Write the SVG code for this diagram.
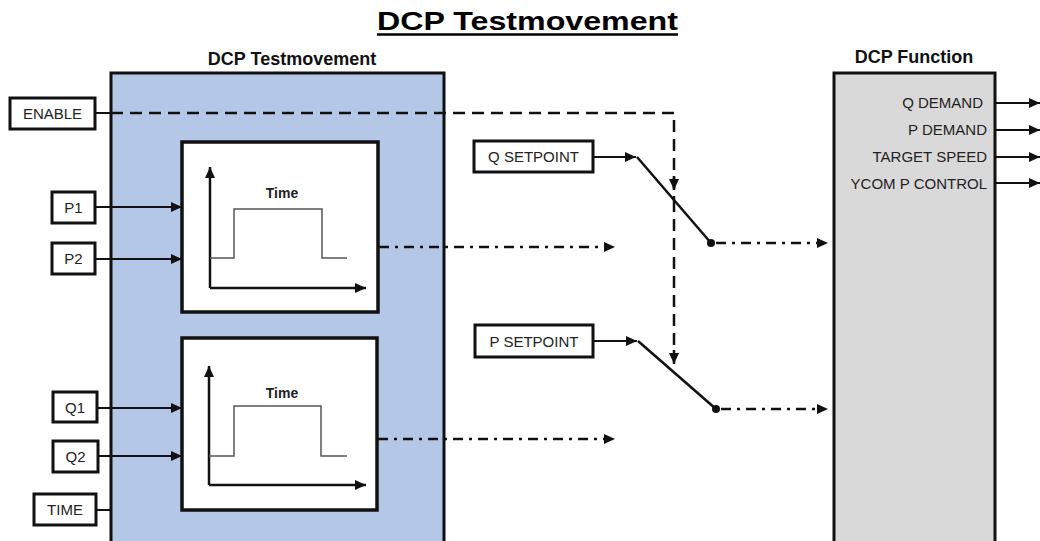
<svg xmlns="http://www.w3.org/2000/svg" width="1040" height="541" viewBox="0 0 1040 541">
<style>
  .lbl{font-family:"Liberation Sans",Arial,sans-serif;font-size:15px;fill:#222;}
  .hd{font-family:"Liberation Sans",Arial,sans-serif;font-size:18px;font-weight:bold;fill:#111;}
  .tm{font-family:"Liberation Sans",Arial,sans-serif;font-size:14px;font-weight:bold;fill:#222;}
  .box{fill:#fff;stroke:#111;stroke-width:3;}
  .inner{fill:#fff;stroke:#111;stroke-width:3.5;}
  .sol{fill:none;stroke:#111;stroke-width:2;}
  .dash{fill:none;stroke:#111;stroke-width:2.5;stroke-dasharray:12 7;}
  .dd{fill:none;stroke:#111;stroke-width:2.5;stroke-dasharray:10 6 3 6;}
  .pulse{fill:none;stroke:#555;stroke-width:1.5;}
  .axis{fill:none;stroke:#111;stroke-width:2.5;}
</style>
<defs>
  <marker id="ah" markerUnits="userSpaceOnUse" markerWidth="12" markerHeight="10" refX="11" refY="5" orient="auto">
    <path d="M0,0 L11,5 L0,10 Z" fill="#111"/>
  </marker>
</defs>
<rect width="1040" height="541" fill="#fff"/>

<!-- title -->
<g id="title">
  <text x="527.5" y="30" text-anchor="middle" font-family="Liberation Sans, Arial, sans-serif" font-size="25" font-weight="bold" fill="#000" textLength="301" lengthAdjust="spacingAndGlyphs">DCP Testmovement</text>
  <line x1="377" y1="34.5" x2="678" y2="34.5" stroke="#000" stroke-width="2.5"/>
</g>

<!-- DCP Testmovement block -->
<g id="dcp-testmovement">
  <text class="hd" x="292" y="65" text-anchor="middle">DCP Testmovement</text>
  <rect x="111" y="73" width="333" height="490" fill="#b4c7e7" stroke="#111" stroke-width="3"/>
</g>

<!-- DCP Function block -->
<g id="dcp-function">
  <text class="hd" x="914" y="63" text-anchor="middle">DCP Function</text>
  <rect x="834" y="73" width="161" height="490" fill="#d9d9d9" stroke="#111" stroke-width="3"/>
  <text class="lbl" x="983" y="108" text-anchor="end">Q DEMAND</text>
  <text class="lbl" x="987" y="135" text-anchor="end">P DEMAND</text>
  <text class="lbl" x="987" y="162" text-anchor="end">TARGET SPEED</text>
  <text class="lbl" x="987" y="189" text-anchor="end">YCOM P CONTROL</text>
</g>

<!-- input nodes -->
<g id="enable"><rect class="box" x="10" y="98" width="85" height="31"/><text class="lbl" x="52.5" y="119" text-anchor="middle">ENABLE</text></g>
<g id="p1"><rect class="box" x="52" y="192" width="43" height="31"/><text class="lbl" x="73.5" y="213" text-anchor="middle">P1</text></g>
<g id="p2"><rect class="box" x="52" y="243" width="43" height="31"/><text class="lbl" x="73.5" y="264" text-anchor="middle">P2</text></g>
<g id="q1"><rect class="box" x="53" y="392" width="44" height="30"/><text class="lbl" x="75" y="413" text-anchor="middle">Q1</text></g>
<g id="q2"><rect class="box" x="53" y="441" width="45" height="31"/><text class="lbl" x="75.5" y="462" text-anchor="middle">Q2</text></g>
<g id="time"><rect class="box" x="34" y="494" width="62" height="31"/><text class="lbl" x="65" y="515" text-anchor="middle">TIME</text></g>
<g id="q-setpoint"><rect class="box" x="474" y="141" width="119" height="31"/><text class="lbl" x="533.5" y="162" text-anchor="middle">Q SETPOINT</text></g>
<g id="p-setpoint"><rect class="box" x="475" y="325" width="118" height="32"/><text class="lbl" x="534" y="347" text-anchor="middle">P SETPOINT</text></g>

<!-- pulse generator 1 -->
<g id="pulse-gen-1">
  <rect class="inner" x="182" y="142" width="196" height="170"/>
  <line class="axis" x1="210" y1="288" x2="210" y2="167" marker-end="url(#ah)"/>
  <line class="axis" x1="210" y1="288" x2="366" y2="288" marker-end="url(#ah)"/>
  <polyline class="pulse" points="210,258 234,258 234,209 322,209 322,258 347,258"/>
  <text class="tm" x="282" y="198" text-anchor="middle">Time</text>
</g>

<!-- pulse generator 2 -->
<g id="pulse-gen-2">
  <rect class="inner" x="182" y="338" width="195" height="172"/>
  <line class="axis" x1="209" y1="485" x2="209" y2="366" marker-end="url(#ah)"/>
  <line class="axis" x1="209" y1="485" x2="366" y2="485" marker-end="url(#ah)"/>
  <polyline class="pulse" points="209,456 234,456 234,406 321,406 321,456 347,456"/>
  <text class="tm" x="282" y="398" text-anchor="middle">Time</text>
</g>

<!-- connectors -->
<g id="connectors">
  <!-- ENABLE -->
  <line class="sol" x1="95" y1="113" x2="111" y2="113" stroke-width="2.5"/>
  <polyline class="dash" points="111,113 674,113 674,200"/>
  <line x1="674" y1="176" x2="674" y2="190" stroke="#111" stroke-width="2.5" marker-end="url(#ah)"/>
  <line class="dash" x1="674" y1="200" x2="674" y2="352"/>
  <line x1="674" y1="350" x2="674" y2="364" stroke="#111" stroke-width="2.5" marker-end="url(#ah)"/>
  <!-- inputs -->
  <line class="sol" x1="95" y1="207" x2="182" y2="207" marker-end="url(#ah)"/>
  <line class="sol" x1="95" y1="259" x2="182" y2="259" marker-end="url(#ah)"/>
  <line class="sol" x1="97" y1="408" x2="182" y2="408" marker-end="url(#ah)"/>
  <line class="sol" x1="98" y1="456" x2="182" y2="456" marker-end="url(#ah)"/>
  <line class="sol" x1="96" y1="510" x2="111" y2="510" stroke-width="2.5"/>
  <!-- pulse outputs -->
  <line class="dd" x1="379" y1="247" x2="605" y2="247"/>
  <path d="M604,242 L615,247 L604,252 Z" fill="#111"/>
  <line class="dd" x1="378" y1="439" x2="605" y2="439"/>
  <path d="M604,434 L615,439 L604,444 Z" fill="#111"/>
  <!-- Q setpoint switch -->
  <line class="sol" x1="593" y1="157" x2="636" y2="157" marker-end="url(#ah)"/>
  <line x1="637" y1="157" x2="711" y2="243" stroke="#111" stroke-width="2.5"/>
  <circle cx="711" cy="243" r="4" fill="#111"/>
  <line class="dd" x1="716" y1="243" x2="818" y2="243"/>
  <path d="M817,238 L828,243 L817,248 Z" fill="#111"/>
  <!-- P setpoint switch -->
  <line class="sol" x1="593" y1="341" x2="637" y2="341" marker-end="url(#ah)"/>
  <line x1="638" y1="341" x2="716" y2="409" stroke="#111" stroke-width="2.5"/>
  <circle cx="716" cy="409" r="4" fill="#111"/>
  <line class="dd" x1="721" y1="409" x2="818" y2="409"/>
  <path d="M817,404 L828,409 L817,414 Z" fill="#111"/>
  <!-- outputs -->
  <line class="sol" x1="995" y1="103" x2="1040" y2="103" marker-end="url(#ah)"/>
  <line class="sol" x1="995" y1="130" x2="1040" y2="130" marker-end="url(#ah)"/>
  <line class="sol" x1="995" y1="157" x2="1040" y2="157" marker-end="url(#ah)"/>
  <line class="sol" x1="995" y1="183" x2="1040" y2="183" marker-end="url(#ah)"/>
</g>
</svg>
